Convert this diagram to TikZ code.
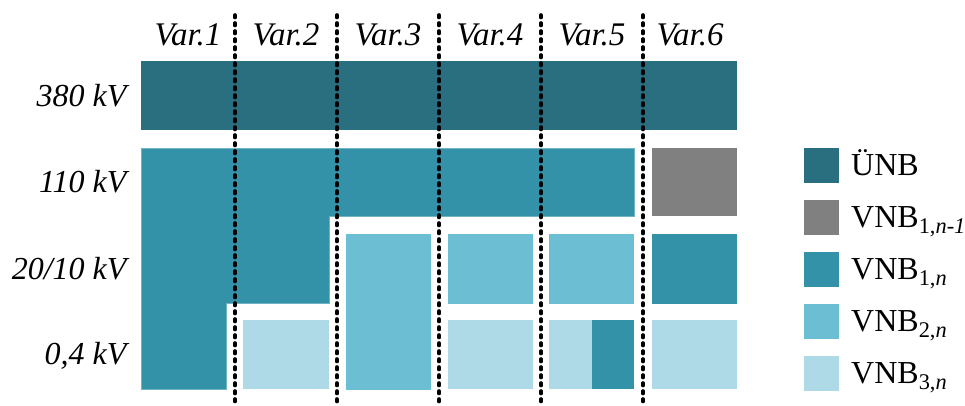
\documentclass[tikz,border=0pt]{standalone}
\usepackage{fontspec}
\setmainfont{Liberation Serif}
\usepackage{tikz}
\usetikzlibrary{positioning}
\definecolor{unb}{HTML}{2A6F80}
\definecolor{vnbprev}{HTML}{808080}
\definecolor{vnbone}{HTML}{3392A8}
\definecolor{vnbtwo}{HTML}{6CBED3}
\definecolor{vnbthree}{HTML}{ADDAE6}

\begin{document}
\begin{tikzpicture}[x=1pt,y=-1pt,
  lvl/.style={anchor=base east,font=\fontsize{32}{38}\selectfont\itshape},
  var/.style={anchor=base,font=\fontsize{33}{38}\selectfont\itshape},
  sep/.style={line width=3.6pt,dash pattern=on 2.5pt off 5.5pt,line cap=round},
  key/.style={minimum size=35pt,inner sep=0pt,outer sep=0pt},
  keytxt/.style={anchor=base west,font=\fontsize{32}{38}\selectfont,inner sep=0pt}]
\useasboundingbox (0,0) rectangle (965,405);

% voltage levels
\node[lvl] (l380) at (130,106) {380 kV};
\node[lvl] (l110) at (130,192) {110 kV};
\node[lvl] (l20) at (130,279) {20/10 kV};
\node[lvl] (l04) at (130,364) {0,4 kV};

% 380 kV
\fill[unb] (141,61) rectangle (737,130);
% 110 kV (Var.6 separate)
\fill[vnbone,draw=vnbone!70!white,line width=0.6pt]
  (141,148) -- (634,148) -- (634,216) -- (329,216) -- (329,303)
  -- (226,303) -- (226,389) -- (141,389) -- cycle;
\fill[vnbprev] (652,148) rectangle (737,216);
% 20/10 kV
\fill[vnbtwo] (346,234) rectangle (431,390);
\fill[vnbtwo] (448,234) rectangle (533,304);
\fill[vnbtwo] (549,234) rectangle (634,304);
\fill[vnbone] (652,234) rectangle (737,304);
% 0,4 kV
\fill[vnbthree] (243,320) rectangle (329,389);
\fill[vnbthree] (448,320) rectangle (533,389);
\fill[vnbthree] (549,320) rectangle (592,389);
\fill[vnbone] (592,320) rectangle (634,389);
\fill[vnbthree] (652,320) rectangle (737,389);

% variants
\node[var] (v1) at (188,45) {Var.1};
\node[var] (v2) at (286,45) {Var.2};
\node[var] (v3) at (388,45) {Var.3};
\node[var] (v4) at (490,45) {Var.4};
\node[var] (v5) at (592,45) {Var.5};
\node[var] (v6) at (690,45) {Var.6};
\foreach \x in {235,337,439,541,643}
  \draw[sep] (\x,15) -- (\x,405);

% legend
\node[key,fill=unb] (k1) at (821.5,165.5) {};
\node[key,fill=vnbprev,below=17pt of k1] (k2) {};
\node[key,fill=vnbone,below=17pt of k2] (k3) {};
\node[key,fill=vnbtwo,below=17pt of k3] (k4) {};
\node[key,fill=vnbthree,below=17pt of k4] (k5) {};
\node[keytxt] (t1) at ([xshift=12pt,yshift=-10pt]k1.east) {ÜNB};
\node[keytxt] (t2) at ([xshift=12pt,yshift=-10pt]k2.east) {VNB\textsubscript{1,\textit{n-1}}};
\node[keytxt] (t3) at ([xshift=12pt,yshift=-10pt]k3.east) {VNB\textsubscript{1,\textit{n}}};
\node[keytxt] (t4) at ([xshift=12pt,yshift=-10pt]k4.east) {VNB\textsubscript{2,\textit{n}}};
\node[keytxt] (t5) at ([xshift=12pt,yshift=-10pt]k5.east) {VNB\textsubscript{3,\textit{n}}};
\end{tikzpicture}
\end{document}
